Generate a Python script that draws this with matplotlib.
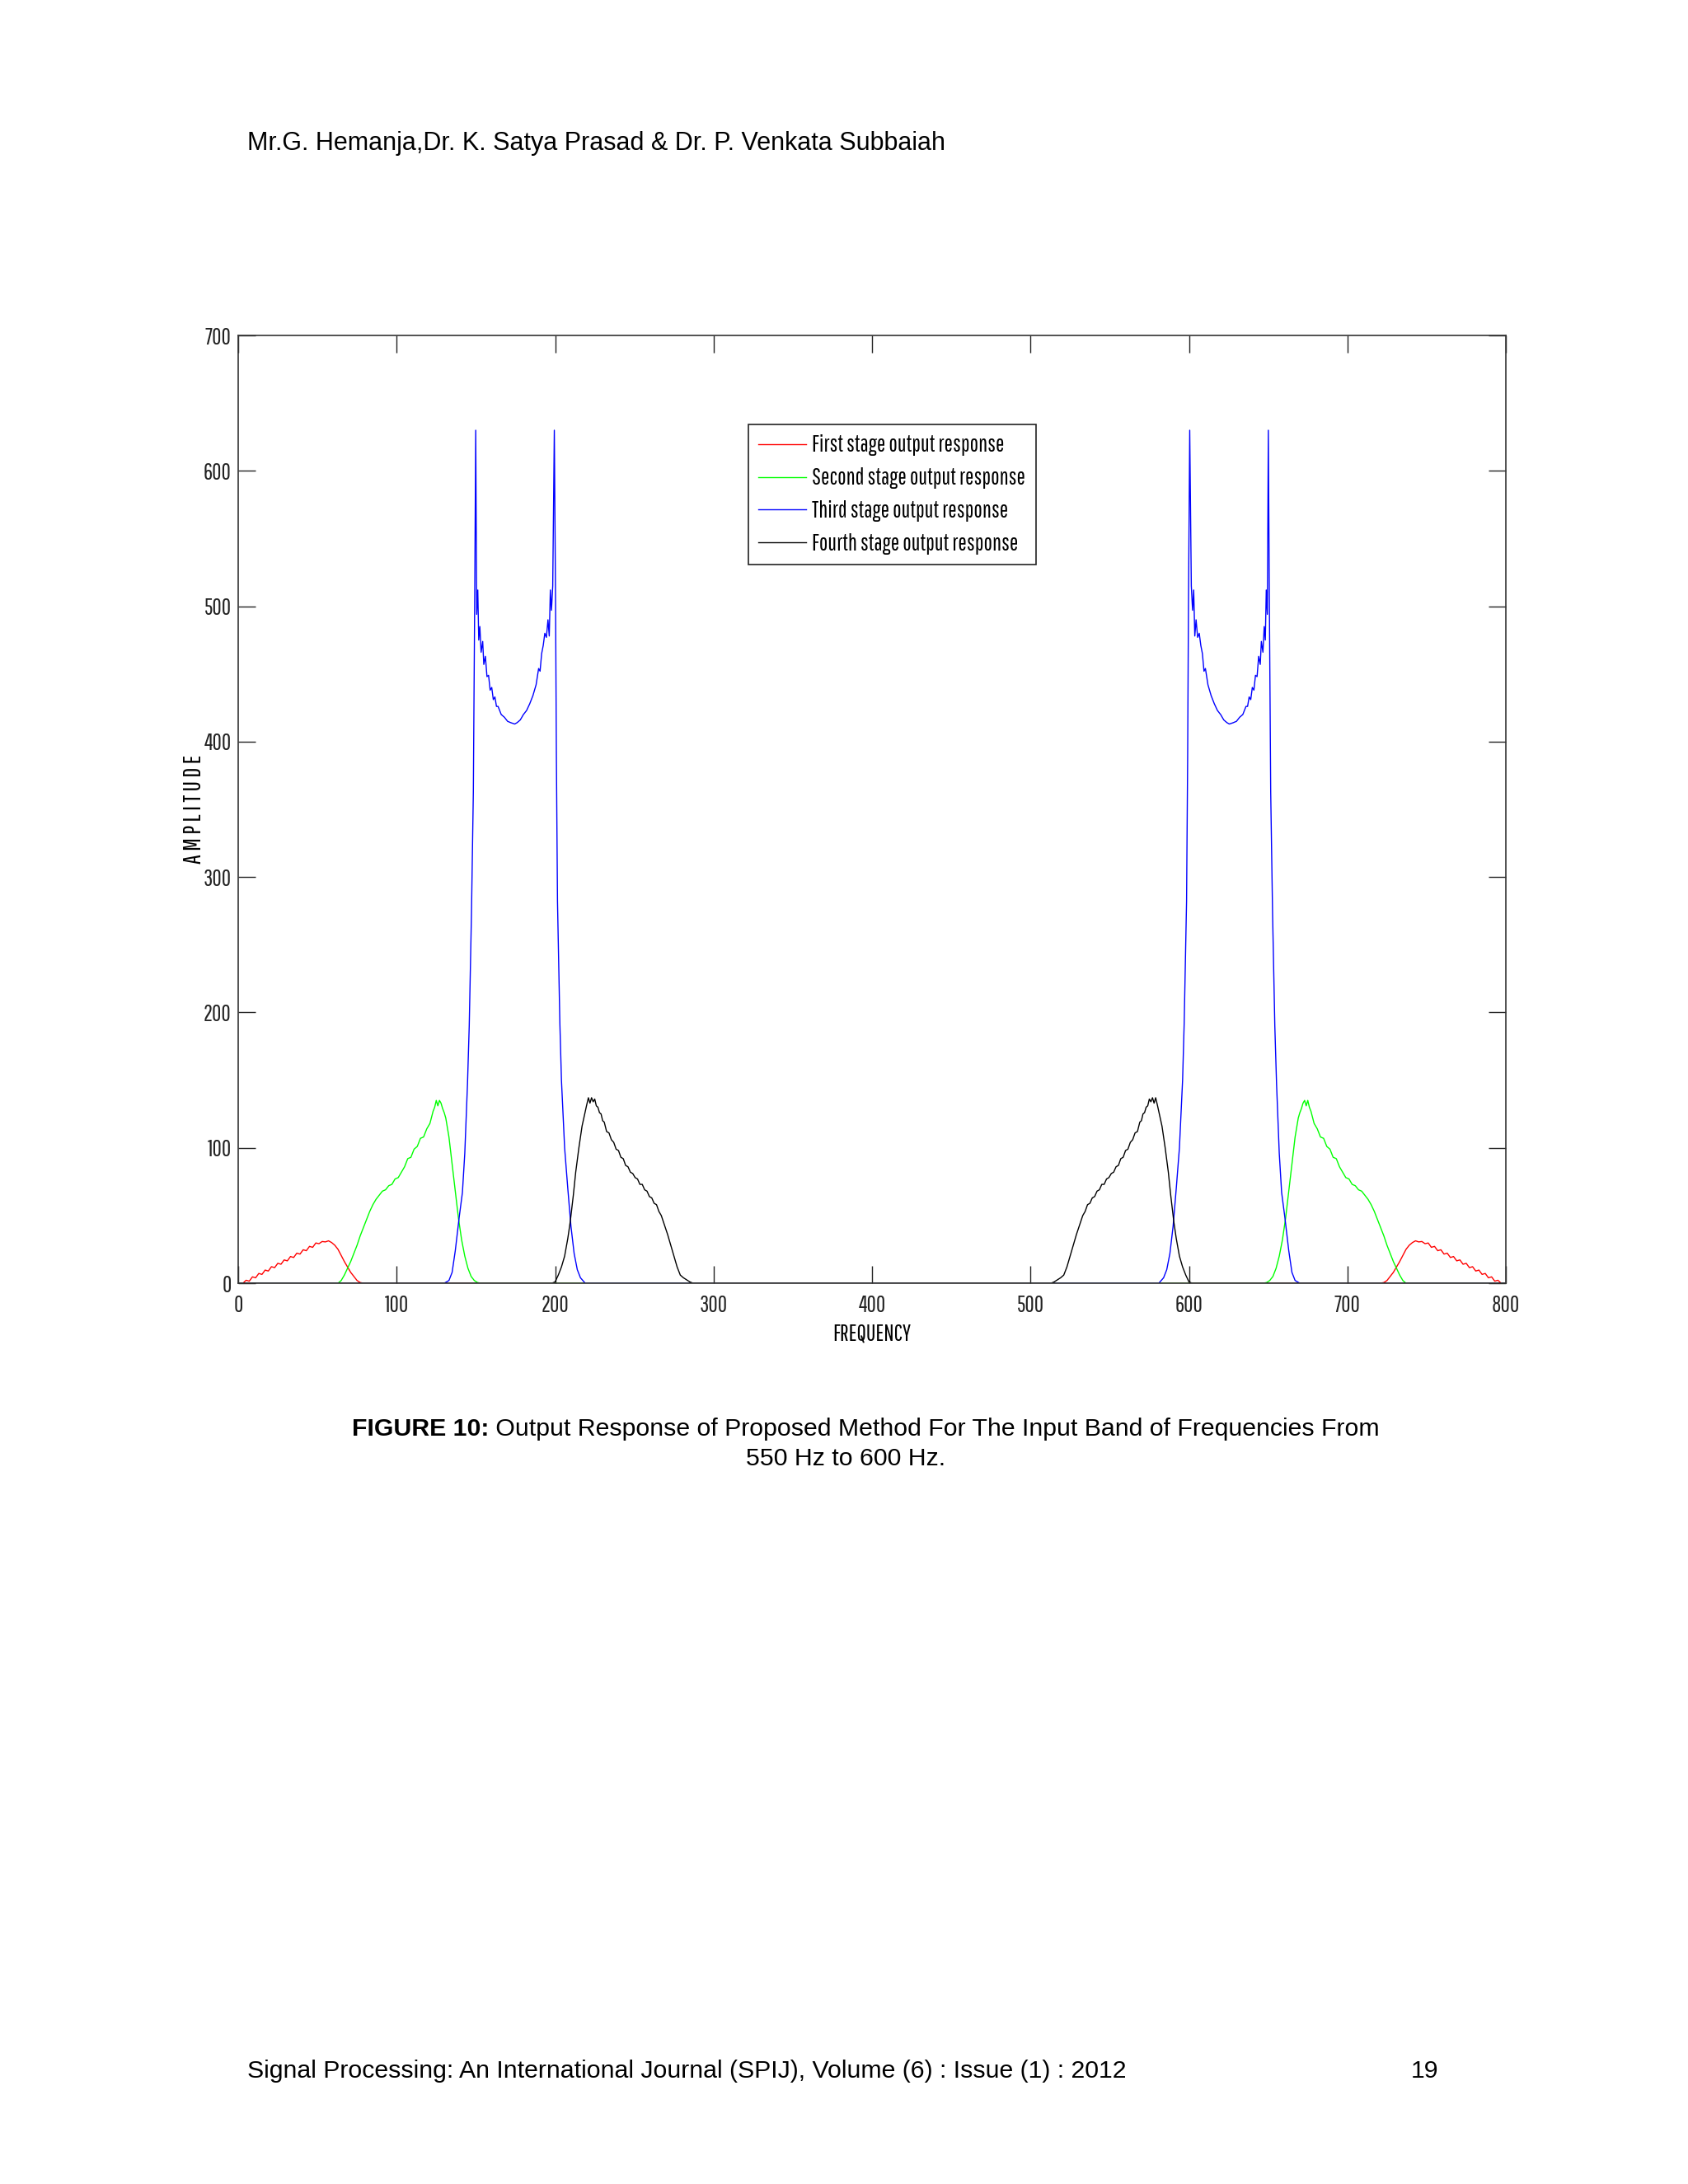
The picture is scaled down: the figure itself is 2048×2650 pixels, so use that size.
import matplotlib
matplotlib.use("Agg")
import matplotlib.pyplot as plt
from matplotlib.textpath import TextPath
from matplotlib.font_manager import FontProperties

# ---- data (frequency bin, amplitude) ----
red_left_f = [3, 5, 7, 9, 11, 13, 15, 17, 19, 21, 23, 25, 27, 29, 31, 33, 35, 37, 39, 41, 43, 45, 47, 49,
              51, 53, 55, 57, 59, 61, 63, 65, 67, 69, 71, 73, 75, 77, 79]
red_left_a = [0, 2.2, 1.5, 4.7, 4, 7.2, 6.5, 9.7, 9, 12.2, 11.5, 14.7, 14, 17.2, 16.5, 19.7, 19, 22.2, 21.5, 24.7,
              24, 27.2, 26.5, 29.7, 29.2, 30.8, 30.5, 31.3, 30, 28, 25, 20.5, 16, 12, 8, 5, 2, 0.5, 0]
red_right_f = [721, 723, 725, 727, 729, 731, 733, 735, 737, 739, 741, 743, 745, 747, 749, 751, 753, 755, 757, 759,
               761, 763, 765, 767, 769, 771, 773, 775, 777, 779, 781, 783, 785, 787, 789, 791, 793, 795, 797]
red_right_a = [0, 0.5, 2, 5, 8, 12, 16, 20.5, 25, 28, 30, 31.3, 30.5, 30.8, 29.2, 29.7, 26.5, 27.2, 24, 24.7,
               21.5, 22.2, 19, 19.7, 16.5, 17.2, 14, 14.7, 11.5, 12.2, 9, 9.7, 6.5, 7.2, 4, 4.7, 1.5, 2.2, 0]

green_left_f = [63, 65, 67, 69, 71, 73, 75, 77, 79, 81, 83, 85, 87, 89, 91, 93, 95, 97, 99, 101, 103, 105, 107,
                109, 111, 113, 115, 117, 119, 121, 123, 124, 125, 126, 127, 128, 129, 130, 131, 133, 135, 137,
                139, 141, 143, 145, 147, 149, 151, 153]
green_left_a = [0, 2, 6, 11, 16, 22, 28, 35, 41, 47, 53, 58, 62, 65, 68, 69, 72, 73, 77, 78, 82, 86, 92,
                93, 99, 101, 107, 108, 114, 118, 127, 130, 135, 131, 135, 133, 129, 126, 122, 108, 88, 68,
                48, 32, 20, 11, 5, 2, 0.5, 0]
green_right_f = [647, 649, 651, 653, 655, 657, 659, 661, 663, 665, 667, 669, 670, 671, 672, 673, 674, 675, 676,
                 677, 679, 681, 683, 685, 687, 689, 691, 693, 695, 697, 699, 701, 703, 705, 707, 709, 711, 713,
                 715, 717, 719, 721, 723, 725, 727, 729, 731, 733, 735, 737]
green_right_a = [0, 0.5, 2, 5, 11, 20, 32, 48, 68, 88, 108, 122, 126, 129, 133, 135, 131, 135, 130,
                 127, 118, 114, 108, 107, 101, 99, 93, 92, 86, 82, 78, 77, 73, 72, 69, 68, 65, 62,
                 58, 53, 47, 41, 35, 28, 22, 16, 11, 6, 2, 0]

blue_left_f = [130, 133, 135, 137, 139.5, 141.5, 143, 144.7, 145.8, 147.2, 148.4, 149.3, 149.9, 150.5, 151.2,
               151.8, 152.5, 153.3, 154.3, 155, 156, 157, 158, 159, 160, 161, 162, 163, 164, 166, 168, 170,
               172, 174.5, 176, 178, 180, 182, 184, 186, 188, 189.6, 190.5, 191.5, 192.5, 193.5, 194.5, 195.5,
               196.3, 197, 197.7, 198.5, 199.5, 200.3, 200.8, 201.5, 203, 204, 206, 208, 210, 212, 214, 216, 219]
blue_left_a = [0, 2, 8, 24, 49, 67, 96, 147, 190, 272, 363, 514, 630, 494, 512,
               475, 485, 466, 474, 457, 463, 448, 449, 438, 440, 431, 433, 426, 426, 420, 418, 415,
               414, 413, 414, 416, 420, 423, 428, 434, 442, 454, 452, 465, 471, 480, 477, 490,
               478, 512, 497, 515, 630, 500, 390, 282, 192, 150, 100, 70, 42, 22, 10, 4, 0]
blue_right_f = [581, 584, 586, 588, 590, 592, 594, 596, 597, 598.5, 599.2, 599.7, 600.5, 601.5, 602.3, 603,
                603.7, 604.5, 605.5, 606.5, 607.5, 608.5, 609.5, 610.4, 612, 614, 616, 618, 620, 622, 624,
                625.5, 628, 630, 632, 634, 636, 637, 638, 639, 640, 641, 642, 643, 644, 645, 645.7, 646.7,
                647.5, 648.2, 648.8, 649.5, 650.1, 650.7, 651.6, 652.8, 654.2, 655.3, 657, 658.5, 660.5, 663,
                665, 667, 670]
blue_right_a = [0, 4, 10, 22, 42, 70, 100, 150, 192, 282, 390, 500, 630, 515, 497, 512,
                478, 490, 477, 480, 471, 465, 452, 454, 442, 434, 428, 423, 420, 416, 414,
                413, 414, 415, 418, 420, 426, 426, 433, 431, 440, 438, 449, 448, 463, 457, 474, 466,
                485, 475, 512, 494, 630, 514, 363, 272, 190, 147, 96, 67, 49, 24,
                8, 2, 0]

black_left_f = [198, 200, 202, 204, 206, 208, 209.5, 211.5, 213, 215, 217, 218.5, 219.8, 221, 222, 223, 224,
                225, 226, 227, 228, 229, 230, 231, 232.5, 234, 235.5, 237, 238.5, 240, 241.5, 243, 244.5, 246,
                247.5, 249, 250.5, 252, 253.5, 255, 256.5, 258, 259.5, 261, 262.5, 264, 265.5, 267, 269, 271,
                273, 275, 277, 279, 281, 283, 285, 287]
black_left_a = [0, 1, 6, 12, 20, 33, 45, 65, 82, 100, 116, 124, 131, 137, 133, 137, 134,
                136, 131, 130, 126, 125, 120, 119, 112, 111, 106, 104, 99, 98, 93, 92, 87, 86,
                82, 81, 78, 77, 73, 73, 69, 68, 64, 63, 59, 58, 53, 50, 43, 36,
                28, 20, 12, 6, 4, 2.5, 1, 0]
black_right_f = [513, 515, 517, 519, 521, 523, 525, 527, 529, 531, 533, 534.5, 536, 537.5, 539, 540.5, 542,
                 543.5, 545, 546.5, 548, 549.5, 551, 552.5, 554, 555.5, 557, 558.5, 560, 561.5, 563, 564.5,
                 566, 567.5, 569, 570, 571, 572, 573, 574, 575, 576, 577, 578, 579, 580.2, 581.5, 583, 585,
                 587, 588.5, 590.5, 592, 594, 596, 598, 600, 602]
black_right_a = [0, 1, 2.5, 4, 6, 12, 20, 28, 36, 43, 50, 53, 58, 59, 63, 64, 68,
                 69, 73, 73, 77, 78, 81, 82, 86, 87, 92, 93, 98, 99, 104, 106,
                 111, 112, 119, 120, 125, 126, 130, 131, 136, 134, 137, 133, 137, 131, 124, 116, 100,
                 82, 65, 45, 33, 20, 12, 6, 1, 0]

labels = ["First stage output response", "Second stage output response",
          "Third stage output response", "Fourth stage output response"]
colors = ["#ff0000", "#00ff00", "#0000ff", "#000000"]

x_ticks = [0, 100, 200, 300, 400, 500, 600, 700, 800]
y_ticks = [0, 100, 200, 300, 400, 500, 600, 700]

header = "Mr.G. Hemanja,Dr. K. Satya Prasad & Dr. P. Venkata Subbaiah"
caption_bold = "FIGURE 10:"
caption_rest = " Output Response of Proposed Method For The Input Band of Frequencies From"
caption_line2 = "550 Hz to 600 Hz."
footer = "Signal Processing: An International Journal (SPIJ), Volume (6) : Issue (1) : 2012"
page_no = "19"


def full_series(left_f, left_a, right_f, right_a):
    return [0] + left_f + right_f + [800], [0] + left_a + right_a + [0]


W, H = 2048, 2650
narrow = ["Pathway Gothic One", "Barlow Condensed", "DejaVu Sans"]
doc_font = ["Liberation Sans", "DejaVu Sans"]
doc_fs = 21.8

# size the narrow font so the first legend entry is ~230 px wide, as in the page
_w = TextPath((0, 0), labels[0], size=100, prop=FontProperties(family=narrow)).get_extents().width
plot_fs = 230 * 72 / _w
fs_px = plot_fs * 100 / 72

fig = plt.figure(figsize=(W / 100, H / 100), dpi=100, facecolor="white")


def px(x, y):
    return x / W, 1 - y / H


ax = fig.add_axes([289 / W, 1 - 1557 / H, (1827 - 289) / W, (1557 - 407) / H])

series = [
    full_series(red_left_f, red_left_a, red_right_f, red_right_a),
    full_series(green_left_f, green_left_a, green_right_f, green_right_a),
    full_series(blue_left_f, blue_left_a, blue_right_f, blue_right_a),
    full_series(black_left_f, black_left_a, black_right_f, black_right_a),
]
for (f, a), c, lab in zip(series, colors, labels):
    ax.plot(f, a, color=c, lw=1.0, label=lab)

ax.set_xlim(0, 800)
ax.set_ylim(0, 700)
ax.set_xticks(x_ticks)
ax.set_yticks(y_ticks)
ax.tick_params(direction="in", length=15, width=1.0, top=True, right=True,
               labelsize=plot_fs, colors="#222222")
ax.tick_params(axis="x", pad=10)
ax.tick_params(axis="y", pad=6)
for lab in ax.get_xticklabels() + ax.get_yticklabels():
    lab.set_family(narrow)
for sp in ax.spines.values():
    sp.set_linewidth(1.2)
    sp.set_color("#333333")
    sp.set_zorder(5)

ax.set_xlabel("FREQUENCY", family=narrow, fontsize=plot_fs, va="center")
ax.xaxis.set_label_coords(0.5, -(1619 - 1557) / 1150)
# MATLAB-style spaced label; a little extra tracking to match the page
ylab = ax.set_ylabel("A M P L I T U D E", family=narrow, fontsize=plot_fs * 1.08, va="center")
ax.yaxis.set_label_coords(-(289 - 236) / 1538, 0.5)

leg = ax.legend(loc="upper left", bbox_to_anchor=((908 - 289) / 1538, (1557 - 515) / 1150),
                prop={"family": narrow, "size": plot_fs},
                frameon=True, fancybox=False, framealpha=1, edgecolor="#222222", borderaxespad=0,
                handlelength=58 / fs_px, handletextpad=7 / fs_px, labelspacing=0.5, borderpad=0.45)
leg.get_frame().set_linewidth(1.2)

# page text
fig.text(*px(300, 174), header, family=doc_font, fontsize=22.0, va="center", ha="left")

renderer = fig.canvas.get_renderer()
t_bold = fig.text(*px(427, 1734), caption_bold, family=doc_font, fontsize=doc_fs, weight="bold",
                  va="center", ha="left")
bb = t_bold.get_window_extent(renderer)
fig.text((bb.x1) / W, 1 - 1734 / H, caption_rest, family=doc_font, fontsize=doc_fs, va="center", ha="left")
fig.text(*px(1026, 1770), caption_line2, family=doc_font, fontsize=doc_fs, va="center", ha="center")

fig.text(*px(300, 2513), footer, family=doc_font, fontsize=doc_fs, va="center", ha="left")
fig.text(*px(1728, 2513), page_no, family=doc_font, fontsize=doc_fs, va="center", ha="center")

fig.savefig("out.png", dpi=100, facecolor="white")
